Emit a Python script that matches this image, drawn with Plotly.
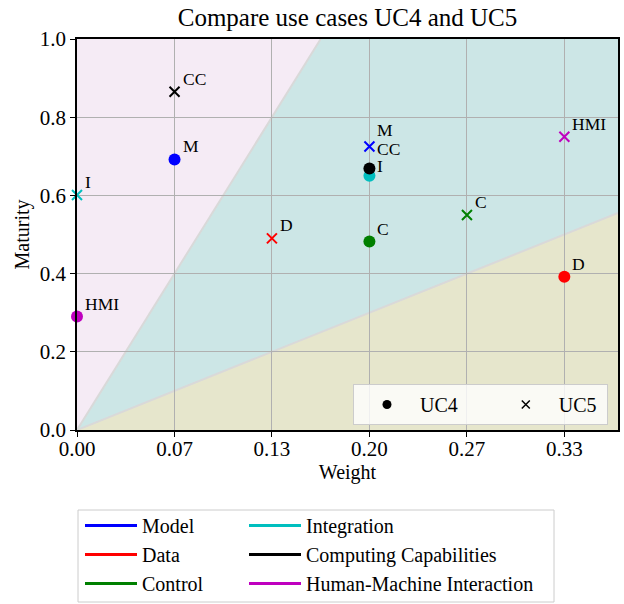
import plotly.graph_objects as go

# Capability categories and their short labels / colours
categories = ["Model", "Data", "Control", "Integration",
              "Computing Capabilities", "Human-Machine Interaction"]
abbrev = ["M", "D", "C", "I", "CC", "HMI"]
colors = ["#0000ff", "#ff0000", "#008000", "#00bfbf", "#000000", "#bf00bf"]

# Use case UC4
uc4_weight = [0.0667, 0.3333, 0.2000, 0.2000, 0.2000, 0.0000]
uc4_maturity = [0.692, 0.392, 0.482, 0.650, 0.669, 0.290]

# Use case UC5
uc5_weight = [0.2000, 0.1333, 0.2667, 0.0000, 0.0667, 0.3333]
uc5_maturity = [0.725, 0.490, 0.550, 0.601, 0.865, 0.750]

# Axis ticks
x_tickvals = [0.0, 0.0667, 0.1333, 0.2, 0.2667, 0.3333]
x_ticktext = ["0.00", "0.07", "0.13", "0.20", "0.27", "0.33"]
y_tickvals = [0.0, 0.2, 0.4, 0.6, 0.8, 1.0]

# Zone boundaries (maturity = slope * weight)
steep_slope = 6.0
shallow_slope = 1.5
x_max = 0.37
y_max = 1.0

FONT = "Liberation Serif"
NBSP = "\u00a0"

fig = go.Figure()

# Background zones
x_top = y_max / steep_slope
zones = [
    (f"M 0 0 L {x_top} {y_max} L 0 {y_max} Z", "rgba(128,0,128,0.08)"),
    (f"M 0 0 L {x_max} {shallow_slope * x_max} L {x_max} {y_max} L {x_top} {y_max} Z",
     "rgba(0,128,128,0.2)"),
    (f"M 0 0 L {x_max} 0 L {x_max} {shallow_slope * x_max} Z", "rgba(128,128,0,0.2)"),
]
for path, fill in zones:
    fig.add_shape(type="path", path=path, xref="x", yref="y",
                  fillcolor=fill, line=dict(width=0), layer="below")
for x1, y1 in [(x_top, y_max), (x_max, shallow_slope * x_max)]:
    fig.add_shape(type="line", x0=0, y0=0, x1=x1, y1=y1, xref="x", yref="y",
                  line=dict(color="#d9d9d9", width=2), layer="below")

# Data points
fig.add_trace(go.Scatter(
    x=uc4_weight, y=uc4_maturity, mode="markers", showlegend=False,
    marker=dict(symbol="circle", size=12, color=colors, line=dict(width=0)),
    cliponaxis=False, hoverinfo="skip"))
fig.add_trace(go.Scatter(
    x=uc5_weight, y=uc5_maturity, mode="markers", showlegend=False,
    marker=dict(symbol="x-thin", size=10, color=colors,
                line=dict(width=2, color=colors)),
    cliponaxis=False, hoverinfo="skip"))

# Point labels
label_lift = {("UC4", "CC"): 19, ("UC5", "M"): 17, ("UC4", "I"): 10}
for uc, xs, ys in [("UC4", uc4_weight, uc4_maturity), ("UC5", uc5_weight, uc5_maturity)]:
    for ab, xv, yv in zip(abbrev, xs, ys):
        fig.add_annotation(x=xv, y=yv, text=ab, showarrow=False,
                           xanchor="left", yanchor="middle",
                           xshift=6, yshift=label_lift.get((uc, ab), 13),
                           font=dict(family=FONT, size=17.5, color="black"))

# Marker legend (inside the axes)
fig.add_trace(go.Scatter(x=[None], y=[None], mode="markers", name="UC4" + NBSP * 6,
                         marker=dict(symbol="circle", size=9, color="black"),
                         legend="legend"))
fig.add_trace(go.Scatter(x=[None], y=[None], mode="markers", name="UC5" + NBSP,
                         marker=dict(symbol="x-thin", size=8, color="black",
                                     line=dict(width=1.5, color="black")),
                         legend="legend"))

# Category legend (below the axes), two columns
for i, (name, col) in enumerate(zip(categories, colors)):
    fig.add_trace(go.Scatter(x=[None], y=[None], mode="lines", name=name,
                             line=dict(color=col, width=3),
                             legend="legend2" if i < 3 else "legend3"))

fig.add_shape(type="rect", xref="paper", yref="paper",
              x0=(78 - 77) / 541, x1=(554 - 77) / 541,
              y0=(430 - 602) / 391, y1=(430 - 510) / 391,
              line=dict(color="#cccccc", width=1), fillcolor="white", layer="below")

legend_common = dict(font=dict(family=FONT, size=20, color="black"),
                     bgcolor="rgba(0,0,0,0)", borderwidth=0,
                     orientation="v", yanchor="top", xanchor="left",
                     itemwidth=52, tracegroupgap=0)

fig.update_layout(
    width=624, height=604,
    margin=dict(l=77, r=6, t=39, b=174, autoexpand=False),
    paper_bgcolor="white", plot_bgcolor="white",
    font=dict(family=FONT, size=21, color="black"),
    title=dict(text="Compare use cases UC4 and UC5", x=(77 + 618) / 2 / 624,
               xanchor="center", y=1 - 17 / 604, yanchor="middle",
               font=dict(family=FONT, size=25, color="black")),
    xaxis=dict(range=[0, x_max], tickvals=x_tickvals, ticktext=x_ticktext,
               showgrid=True, gridcolor="#b0b0b0", gridwidth=1.2,
               zeroline=False, showline=True, linecolor="black", linewidth=1.5,
               mirror=True, ticks="outside", ticklen=5, tickcolor="black",
               tickfont=dict(size=21), ticklabelstandoff=-6,
               title=dict(text="Weight", font=dict(size=20), standoff=0)),
    yaxis=dict(range=[0, y_max], tickvals=y_tickvals, tickformat=".1f",
               showgrid=True, gridcolor="#b0b0b0", gridwidth=1.2,
               zeroline=False, showline=True, linecolor="black", linewidth=1.5,
               mirror=True, ticks="outside", ticklen=5, tickcolor="black",
               tickfont=dict(size=21),
               title=dict(text="Maturity", font=dict(size=20), standoff=5)),
    legend=dict(orientation="h", x=(353 - 77) / 541, y=(430 - 384) / 391,
                xanchor="left", yanchor="top",
                font=dict(family=FONT, size=20, color="black"),
                bgcolor="rgba(255,255,255,0.8)", bordercolor="#cccccc", borderwidth=1,
                itemwidth=56),
    legend2=dict(x=(80 - 77) / 541, y=(430 - 506) / 391, **legend_common),
    legend3=dict(x=(244 - 77) / 541, y=(430 - 506) / 391, **legend_common),
)

fig.write_html("out.html")
